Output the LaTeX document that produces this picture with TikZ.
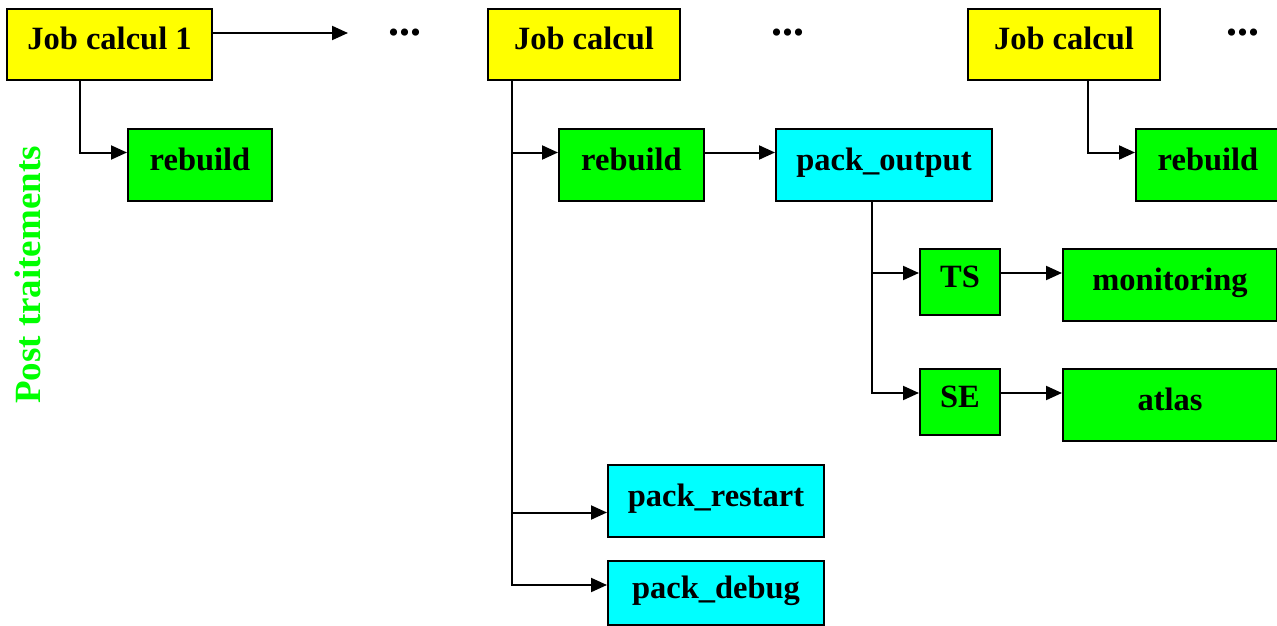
\documentclass[tikz,border=0pt]{standalone}
\usepackage{fontspec}
\setmainfont{Liberation Serif}
\usepackage{tikz}
\usetikzlibrary{positioning,arrows.meta}
\definecolor{jobyellow}{RGB}{255,255,0}
\definecolor{postgreen}{RGB}{0,255,0}
\definecolor{packcyan}{RGB}{0,255,255}

\begin{document}
\begin{tikzpicture}[x=1pt,y=1pt,node distance=120pt and 120pt,on grid,
  line width=2pt,>={Triangle[length=16pt,width=14pt]},
  font=\fontsize{32.5}{38}\selectfont\bfseries,
  box/.style={draw=black,rectangle,inner sep=0pt,text height=20pt,text depth=9pt,minimum height=72pt},
  job/.style={box,fill=jobyellow,minimum width=192pt,minimum height=71pt},
  post/.style={box,fill=postgreen,minimum width=144pt},
  pack/.style={box,fill=packcyan,minimum width=216pt},
  etc/.style={inner sep=0pt,font=\fontsize{44}{48}\selectfont\bfseries}]
\useasboundingbox (0,0) rectangle (1277,-626);
\node[job,minimum width=205pt](job_1) at (109.5,-44.5){Job calcul 1};
\node[job](job_2)[right=of job_1,xshift=354.5pt]{Job calcul};
\node[job](job_3)[right=of job_2,xshift=360pt]{Job calcul};
\node[etc](d_1)[right=of job_1,xshift=175.5pt,yshift=11.5pt]{...};
\node[etc](d_2)[right=of job_2,xshift=84pt,yshift=11.5pt]{...};
\node[etc](d_3)[right=of job_3,xshift=59pt,yshift=11.5pt]{...};
\node[coordinate](c_1)[right=of job_1,xshift=118.5pt,yshift=11.5pt]{};
\node[post](reb_1)[below=of job_1,xshift=90.5pt]{rebuild};
\node[post,minimum width=145pt](reb_2)[below=of job_2,xshift=47.5pt]{rebuild};
\node[post](reb_3)[below=of job_3,xshift=144pt]{rebuild};
\node[pack](pk_out)[right=of reb_2,xshift=132.5pt]{pack\_output};
\node[post,minimum width=80pt,minimum height=66pt](ts)[below=of pk_out,xshift=76pt,yshift=2.5pt]{TS};
\node[post,minimum width=80pt,minimum height=66pt](se)[below=of ts]{SE};
\node[post,minimum width=214pt](mon)[right=of ts,xshift=90pt,yshift=-3pt]{monitoring};
\node[post,minimum width=214pt](atl)[right=of se,xshift=90pt,yshift=-3pt]{atlas};
\node[pack](pk_rst)[below=of reb_2,xshift=84.5pt,yshift=-216.5pt]{pack\_restart};
\node[pack,minimum height=64pt](pk_dbg)[below=of pk_rst,yshift=28pt]{pack\_debug};
\node[text=postgreen,rotate=90,font=\fontsize{37}{42}\selectfont\bfseries](lbl) at (28,-275){Post traitements};
% connectors
\draw[->] ([yshift=11.5pt]job_1.east) -- (c_1);
\draw[->] ([xshift=-29.5pt]job_1.south) |- ([yshift=12pt]reb_1.west);
\draw[->] ([xshift=-72pt]job_2.south) |- ([yshift=12pt]reb_2.west);
\draw[->] ([xshift=-72pt]job_2.south) |- ([yshift=-11.5pt]pk_rst.west);
\draw[->] ([xshift=-72pt]job_2.south) |- ([yshift=8pt]pk_dbg.west);
\draw[->] ([yshift=12pt]reb_2.east) -- ([yshift=12pt]pk_out.west);
\draw[->] ([xshift=-12pt]pk_out.south) |- ([yshift=9pt]ts.west);
\draw[->] ([xshift=-12pt]pk_out.south) |- ([yshift=9pt]se.west);
\draw[->] ([yshift=9pt]ts.east) -- ([yshift=12pt]mon.west);
\draw[->] ([yshift=9pt]se.east) -- ([yshift=12pt]atl.west);
\draw[->] ([xshift=24pt]job_3.south) |- ([yshift=12pt]reb_3.west);
\end{tikzpicture}
\end{document}
